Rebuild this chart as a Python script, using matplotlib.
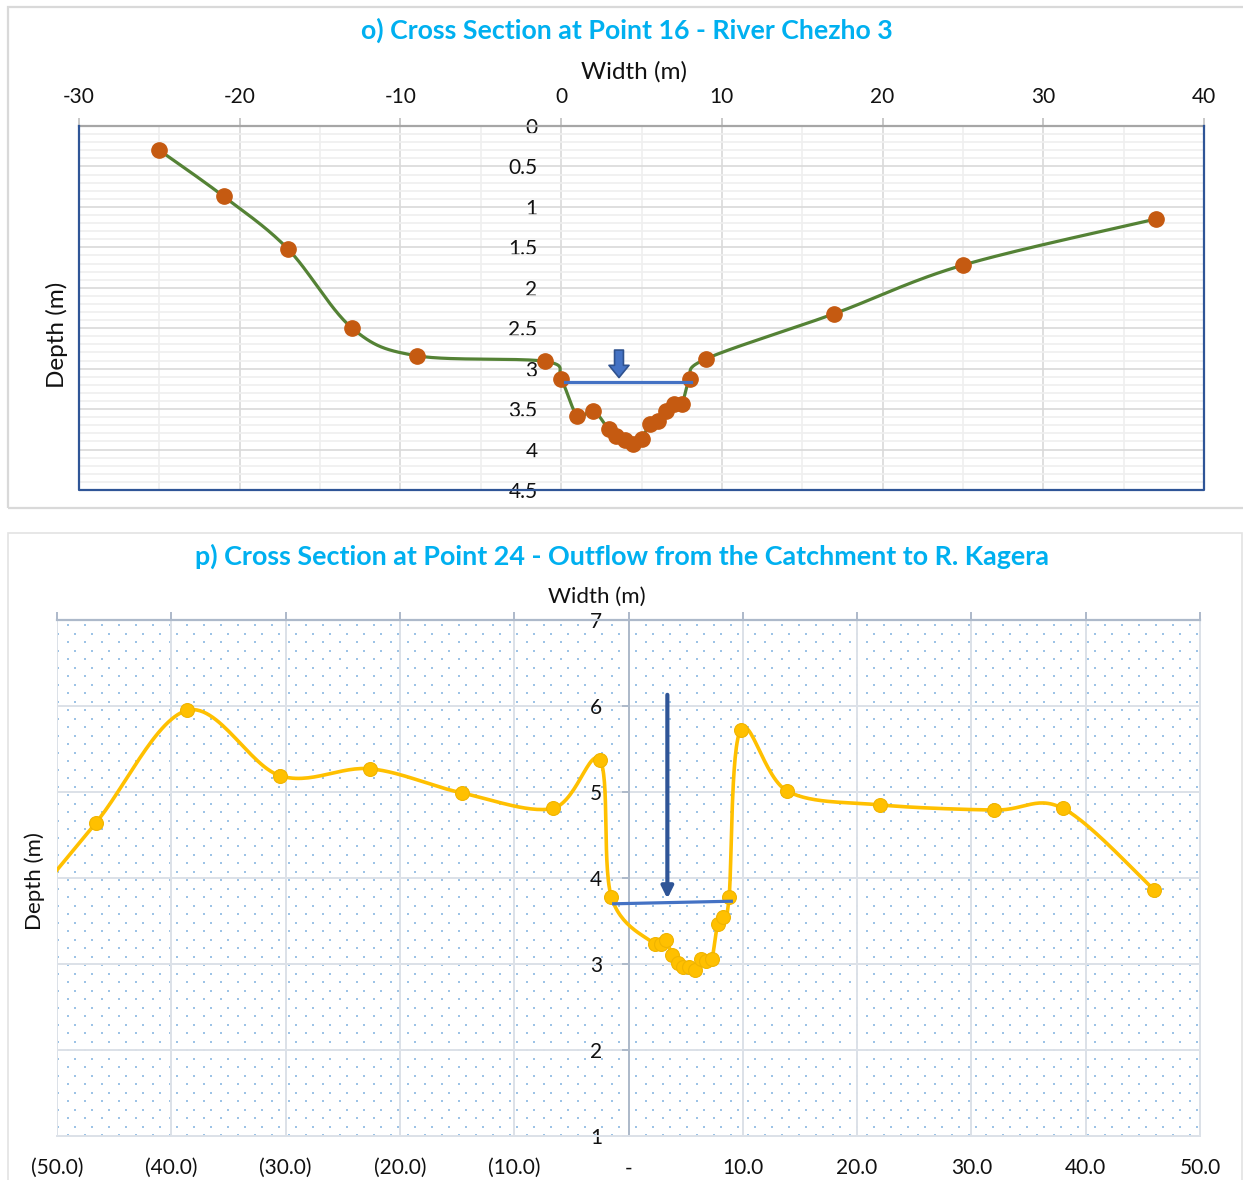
import numpy as np
import matplotlib
matplotlib.use('Agg')
import matplotlib.pyplot as plt
from matplotlib.patches import Rectangle
from matplotlib.ticker import MultipleLocator, FuncFormatter

plt.rcParams['font.family'] = ['Lato', 'DejaVu Sans']
plt.rcParams['axes.unicode_minus'] = False

# o) cross section at point 16
o_width = [-25, -21, -17, -13, -9, -1, 0, 1, 2, 2.95, 3.4, 4, 4.5, 5, 5.5, 6, 6.5, 7, 7.5, 8, 9, 17, 25, 37]
o_depth = [0.30, 0.87, 1.52, 2.50, 2.84, 2.91, 3.13, 3.58, 3.52, 3.75, 3.83, 3.88, 3.93, 3.87,
           3.69, 3.65, 3.52, 3.44, 3.44, 3.13, 2.88, 2.32, 1.72, 1.15]
o_water_x = [0.25, 8.07]
o_water_y = [3.17, 3.17]
o_arrow = (3.6, 2.77, 3.11)

# p) cross section at point 24
p_width = [-54, -46.6, -38.6, -30.5, -22.6, -14.6, -6.6, -2.5, -1.5, 2.3, 2.8, 3.3, 3.8, 4.3, 4.8,
           5.3, 5.8, 6.3, 6.8, 7.3, 7.8, 8.3, 8.8, 9.8, 13.9, 22.0, 32.0, 38.0, 46.0]
p_depth = [3.45, 4.64, 5.95, 5.19, 5.27, 4.99, 4.81, 5.37, 3.78, 3.23, 3.23, 3.28, 3.10, 3.01, 2.96,
           2.96, 2.93, 3.06, 3.03, 3.06, 3.47, 3.55, 3.78, 5.72, 5.01, 4.85, 4.79, 4.81, 3.86]
p_water_x = [-1.3, 9.0]
p_water_y = [3.70, 3.73]
p_arrow = (3.4, 6.13, 3.76)


def smooth(x, y, n=30):
    # excel style smoothed line (catmull-rom as bezier)
    P = np.column_stack([x, y]).astype(float)
    P = np.vstack([P[0], P, P[-1]])
    out = []
    t = np.linspace(0, 1, n)[:, None]
    for i in range(1, len(P) - 2):
        p0, p1, p2, p3 = P[i - 1], P[i], P[i + 1], P[i + 2]
        c1 = p1 + (p2 - p0) / 6
        c2 = p2 - (p3 - p1) / 6
        seg = (1 - t) ** 3 * p1 + 3 * (1 - t) ** 2 * t * c1 + 3 * (1 - t) * t ** 2 * c2 + t ** 3 * p2
        out.append(seg)
    s = np.vstack(out)
    return s[:, 0], s[:, 1]


W, H = 1243, 1180
fig = plt.figure(figsize=(W / 100, H / 100), dpi=100)

# panel frames
fig.add_artist(Rectangle((8 / W, 1 - 508 / H), 1.0, 501 / H, transform=fig.transFigure,
                         fill=False, ec='#D9D9D9', lw=1.6))
fig.add_artist(Rectangle((8 / W, -0.01), 1234 / W, 1 - 533 / H + 0.01, transform=fig.transFigure,
                         fill=False, ec='#E3E3E3', lw=1.2))

# ---------- top chart ----------
ax1 = fig.add_axes([79 / W, 1 - 490 / H, 1125 / W, 364 / H])
ax1.set_xlim(-30, 40)
ax1.set_ylim(4.5, 0)
ax1.xaxis.set_major_locator(MultipleLocator(10))
ax1.xaxis.set_minor_locator(MultipleLocator(5))
ax1.yaxis.set_major_locator(MultipleLocator(0.5))
ax1.yaxis.set_minor_locator(MultipleLocator(0.1))
ax1.yaxis.set_major_formatter(FuncFormatter(lambda v, p: f'{v:g}'))
ax1.grid(which='major', color='#D9D9D9', lw=1.2, zorder=0)
ax1.grid(which='minor', color='#EFEFEF', lw=1.2, zorder=0)
ax1.set_axisbelow(True)
ax1.xaxis.tick_top()
ax1.tick_params(axis='x', which='major', length=6, width=1.2, color='#BFBFBF', pad=8,
                labelsize=15, labelcolor='#111111')
ax1.tick_params(axis='x', which='minor', length=0)
ax1.spines['left'].set_position(('data', 0))
ax1.spines['left'].set_visible(False)
ax1.tick_params(axis='y', which='both', length=0, pad=17, labelsize=15, labelcolor='#111111')
for s in ['right', 'bottom']:
    ax1.spines[s].set_visible(False)
ax1.spines['top'].set_color('#A6A6A6')
ax1.spines['top'].set_linewidth(1.6)
ax1.plot([0, 0, 1, 1], [1, 0, 0, 1], transform=ax1.transAxes, color='#2F5597', lw=1.6,
         clip_on=False, zorder=3)

sx, sy = smooth(o_width, o_depth)
ax1.plot(sx, sy, color='#548235', lw=2.3, zorder=3, solid_capstyle='round')
ax1.plot(o_width, o_depth, 'o', color='#C55A11', ms=11, mec='#C55A11', zorder=4)
ax1.plot(o_water_x, o_water_y, color='#4472C4', lw=2.3, zorder=5)
ax1.annotate('', xy=(o_arrow[0], o_arrow[2]), xytext=(o_arrow[0], o_arrow[1]),
             arrowprops=dict(arrowstyle='simple,head_length=0.55,head_width=0.9,tail_width=0.4',
                             mutation_scale=16, fc='#4472C4', ec='#2F528F', lw=1.2,
                             shrinkA=0, shrinkB=0), zorder=6)

fig.text(627 / W, 1 - 30 / H, 'o) Cross Section at Point 16 - River Chezho 3', ha='center', va='center',
         fontsize=19.3, fontweight='bold', color='#00B0F0')
fig.text(634 / W, 1 - 72 / H, 'Width (m)', ha='center', va='center', fontsize=17.5, color='#111111')
fig.text(57 / W, 1 - 335 / H, 'Depth (m)', ha='center', va='center', rotation=90, fontsize=17.5,
         color='#111111')

# ---------- bottom chart ----------
PW, PH = 1143, 516
ax2 = fig.add_axes([57 / W, 1 - 1136 / H, PW / W, PH / H])
ax2.set_xlim(-50, 50)
ax2.set_ylim(1, 7)
ax2.xaxis.set_major_locator(MultipleLocator(10))
ax2.yaxis.set_major_locator(MultipleLocator(1))


def acc_fmt(v, p):
    if abs(v) < 1e-9:
        return '-'
    if v < 0:
        return f'({-v:.1f})'
    return f'{v:.1f}'


ax2.xaxis.set_major_formatter(FuncFormatter(acc_fmt))
ax2.grid(which='major', color='#DCE1E8', lw=1.4, zorder=0)
ax2.set_axisbelow(True)

# dotted pattern fill of the plot area
dots_x, dots_y = [], []
k = 0
yy = 5.0
while yy < PH:
    xx = 11.3 if k % 2 == 0 else 1.3
    while xx < PW:
        dots_x.append(xx / PW)
        dots_y.append(1 - yy / PH)
        xx += 17
    yy += 8.5
    k += 1
ax2.scatter(dots_x, dots_y, s=3.0, marker='s', color='#9DC3E6', lw=0, transform=ax2.transAxes,
            zorder=0.5)

ax2.spines['left'].set_position(('data', 0))
ax2.spines['left'].set_color('#ADB9CA')
ax2.spines['left'].set_linewidth(1.4)
ax2.spines['top'].set_color('#ADB9CA')
ax2.spines['top'].set_linewidth(1.6)
ax2.spines['right'].set_color('#DCE1E8')
ax2.spines['bottom'].set_color('#DCE1E8')
ax2.spines['right'].set_linewidth(1.4)
ax2.spines['bottom'].set_linewidth(1.4)
ax2.tick_params(axis='x', top=True, bottom=False, labeltop=False, labelbottom=True, length=6,
                width=1.4, color='#ADB9CA', pad=10, labelsize=15, labelcolor='#111111')
ax2.tick_params(axis='y', length=5, width=1.4, color='#ADB9CA', pad=14, labelsize=15,
                labelcolor='#111111')

sx, sy = smooth(p_width, p_depth)
ax2.plot(sx, sy, color='#FFC000', lw=2.6, zorder=3, solid_capstyle='round')
ax2.plot(p_width, p_depth, 'o', color='#FFC000', ms=10, mec='#F0B400', mew=0.8, zorder=4)
ax2.plot(p_water_x, p_water_y, color='#4472C4', lw=2.3, zorder=5)
ax2.annotate('', xy=(p_arrow[0], p_arrow[2]), xytext=(p_arrow[0], p_arrow[1]),
             arrowprops=dict(arrowstyle='-|>,head_length=0.5,head_width=0.25', mutation_scale=14,
                             color='#2F5597', lw=3, shrinkA=0, shrinkB=0), zorder=6)

fig.text(622 / W, 1 - 556 / H, 'p) Cross Section at Point 24 - Outflow from the Catchment to R. Kagera',
         ha='center', va='center', fontsize=19.4, fontweight='bold', color='#00B0F0')
fig.text(597 / W, 1 - 597 / H, 'Width (m)', ha='center', va='center', fontsize=16, color='#111111')
fig.text(35 / W, 1 - 881 / H, 'Depth (m)', ha='center', va='center', rotation=90, fontsize=16,
         color='#111111')

fig.savefig('out.png', dpi=100)
